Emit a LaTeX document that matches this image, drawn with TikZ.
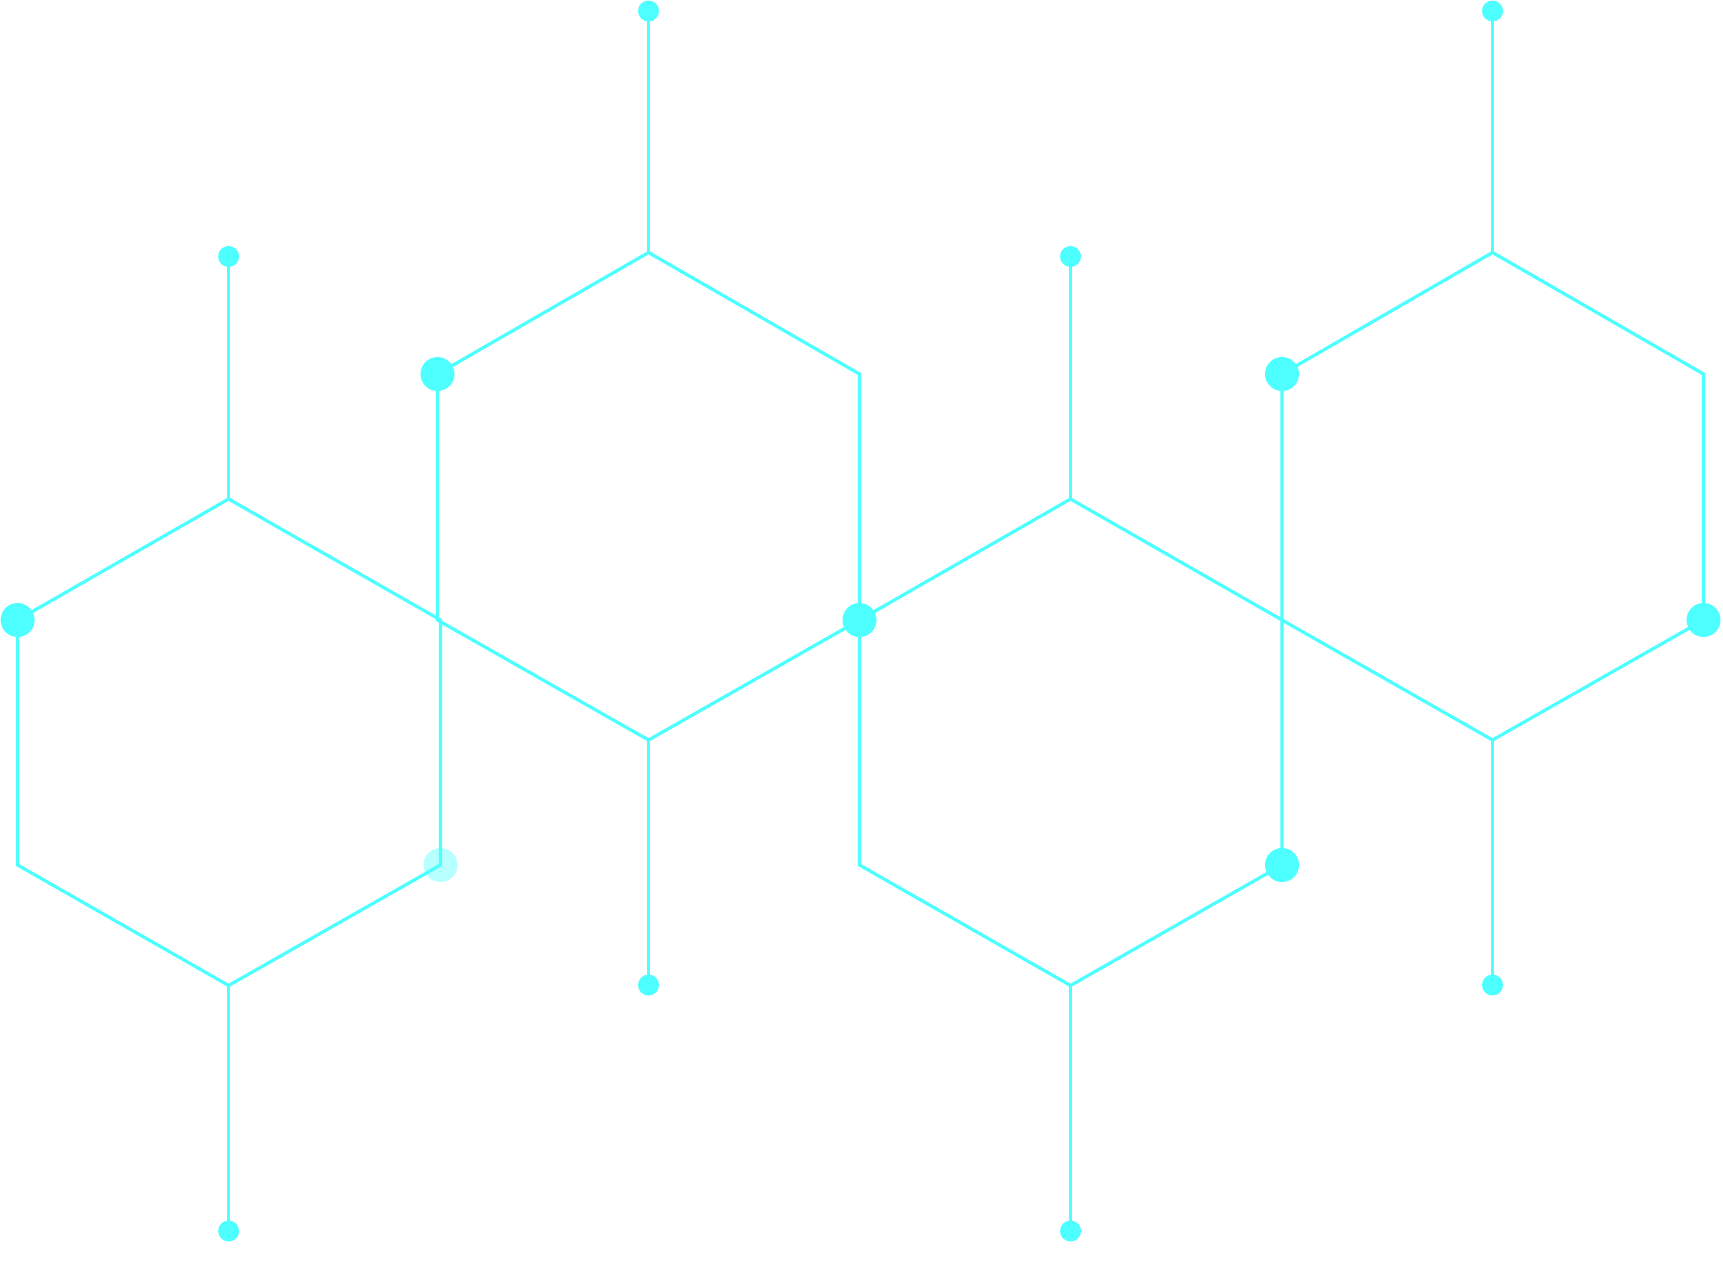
\documentclass[tikz,border=0pt]{standalone}
\definecolor{cy}{RGB}{77,255,255}
\begin{document}
\begin{tikzpicture}[x=1pt,y=-1pt,
  edge/.style={draw=cy,line width=3.2pt,line join=miter},
  bigdot/.style={circle,fill=cy,inner sep=0pt,minimum size=34pt},
  smalldot/.style={circle,fill=cy,inner sep=0pt,minimum size=21pt},
  fadedot/.style={circle,fill=cy,fill opacity=0.4,inner sep=0pt,minimum size=34pt}]
\useasboundingbox (0,0) rectangle (1723,1266);
% hexagon A
\coordinate (a1) at (228.6,499);
\coordinate (a2) at (17.6,620);
\coordinate (a3) at (17.6,865);
\coordinate (a4) at (228.6,985.5);
\coordinate (a5) at (440.5,865);
\coordinate (a6) at (440.5,620);
% hexagon B
\coordinate (b1) at (648.5,252.5);
\coordinate (b2) at (437.5,374);
\coordinate (b3) at (437.5,620);
\coordinate (b4) at (648.5,740);
\coordinate (b5) at (859.5,620);
\coordinate (b6) at (859.5,374);
% hexagon C
\coordinate (c1) at (1070.5,499);
\coordinate (c2) at (859.5,620);
\coordinate (c3) at (859.5,865);
\coordinate (c4) at (1070.5,985.5);
\coordinate (c5) at (1282,865);
\coordinate (c6) at (1282,620);
% hexagon D
\coordinate (d1) at (1492.5,252.5);
\coordinate (d2) at (1282,374);
\coordinate (d3) at (1282,620);
\coordinate (d4) at (1492.5,740);
\coordinate (d5) at (1703.5,620);
\coordinate (d6) at (1703.5,374);
% faded dot underneath
\node[fadedot] (fa) at (a5) {};
% hexagons
\draw[edge] (a1) -- (a2) -- (a3) -- (a4) -- (a5) -- (a6) -- cycle;
\draw[edge] (b1) -- (b2) -- (b3) -- (b4) -- (b5) -- (b6) -- cycle;
\draw[edge] (c1) -- (c2) -- (c3) -- (c4) -- (c5) -- (c6) -- cycle;
\draw[edge] (d1) -- (d2) -- (d3) -- (d4) -- (d5) -- (d6) -- cycle;
% stem end dots
\node[smalldot] (sa1) at (228.6,256.5) {};
\node[smalldot] (sa4) at (228.6,1231) {};
\node[smalldot] (sb1) at (648.5,11) {};
\node[smalldot] (sb4) at (648.5,985) {};
\node[smalldot] (sc1) at (1070.5,256.5) {};
\node[smalldot] (sc4) at (1070.5,1231) {};
\node[smalldot] (sd1) at (1492.5,11) {};
\node[smalldot] (sd4) at (1492.5,985) {};
% stems
\draw[edge] (a1) -- (sa1.center);
\draw[edge] (a4) -- (sa4.center);
\draw[edge] (b1) -- (sb1.center);
\draw[edge] (b4) -- (sb4.center);
\draw[edge] (c1) -- (sc1.center);
\draw[edge] (c4) -- (sc4.center);
\draw[edge] (d1) -- (sd1.center);
\draw[edge] (d4) -- (sd4.center);
% big dots
\node[bigdot] (da2) at (a2) {};
\node[bigdot] (db2) at (b2) {};
\node[bigdot] (db5) at (b5) {};
\node[bigdot] (dd2) at (d2) {};
\node[bigdot] (dd5) at (d5) {};
\node[bigdot] (dc5) at (c5) {};
\end{tikzpicture}
\end{document}
